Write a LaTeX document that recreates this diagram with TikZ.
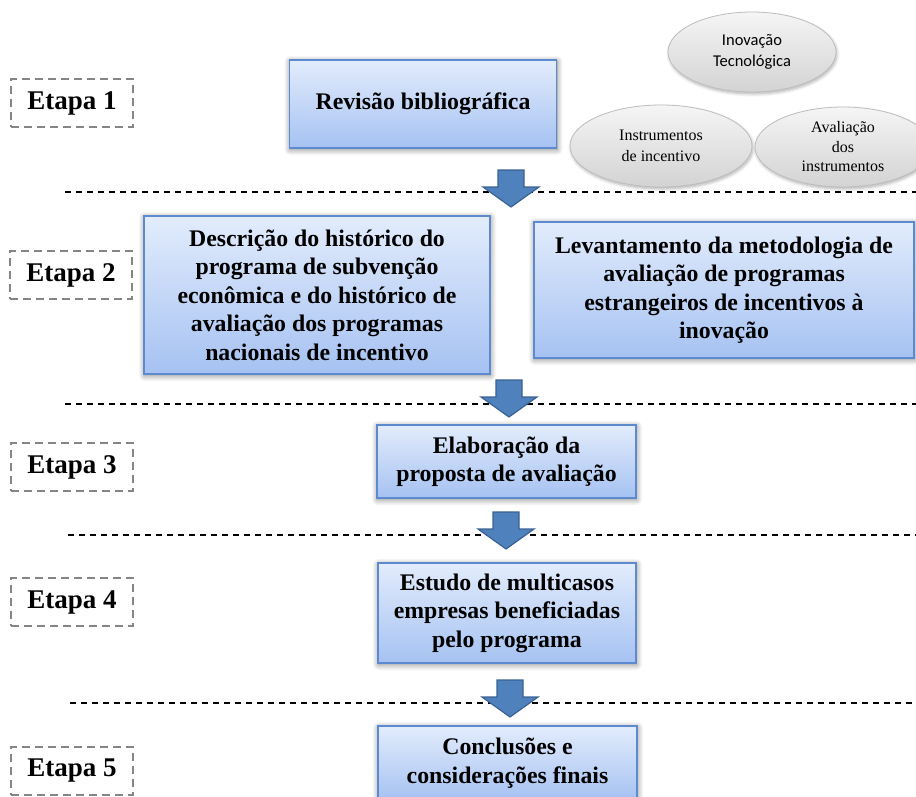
\documentclass[tikz,border=0pt]{standalone}
\usepackage{fontspec}
\setmainfont{Liberation Serif}
\newfontfamily\ovalsans{Carlito}
\usetikzlibrary{shapes.geometric,shadows.blur}

\definecolor{boxtop}{HTML}{E2ECFC}
\definecolor{boxbot}{HTML}{A6C2F2}
\definecolor{boxline}{HTML}{5B8AD0}
\definecolor{arrowfill}{HTML}{4F81BD}
\definecolor{arrowline}{HTML}{3A6294}
\definecolor{ovaltop}{HTML}{F5F5F5}
\definecolor{ovalbot}{HTML}{D3D3D3}
\definecolor{ovalline}{HTML}{BDBDBD}
\definecolor{etapaline}{HTML}{858585}

\tikzset{
  stagebox/.style={draw=boxline, line width=1.8pt, top color=boxtop, bottom color=boxbot,
    align=center, inner sep=0pt,
    font=\fontsize{23.8}{28.5}\selectfont\bfseries,
    blur shadow={shadow xshift=0.5pt, shadow yshift=-1.5pt, shadow opacity=50,
      shadow blur steps=10, shadow blur radius=6pt}},
  etapabox/.style={draw=etapaline, dash pattern=on 8pt off 5pt, line width=2.3pt,
    minimum width=122pt, minimum height=48pt, inner sep=0pt,
    font=\fontsize{27}{30}\selectfont\bfseries},
  oval/.style={ellipse, draw=ovalline, line width=0.8pt, top color=ovaltop, bottom color=ovalbot,
    align=center, inner sep=0pt,
    blur shadow={shadow xshift=1pt, shadow yshift=-2pt, shadow opacity=30,
      shadow blur steps=6, shadow blur radius=3pt}},
  sepline/.style={draw=black, line width=1.1pt, dash pattern=on 6pt off 5pt},
  arrowshape/.style={fill=arrowfill, draw=arrowline, line width=1.2pt, line join=miter},
  pics/flowdown/.style={code={
    \draw[arrowshape] (-13,0) -- (13,0) -- (13,17) -- (28,17) -- (0,37)
      -- (-28,17) -- (-13,17) -- cycle;}}
}

\begin{document}
\begin{tikzpicture}[x=1pt,y=-1pt]
  \useasboundingbox (0,0) rectangle (916,796);
  \clip (0,0) rectangle (916,796);

  % separators between the stages
  \coordinate (s1a) at (65,192);  \coordinate (s1b) at (916,192);
  \coordinate (s2a) at (65,404);  \coordinate (s2b) at (916,404);
  \coordinate (s3a) at (68,535);  \coordinate (s3b) at (916,535);
  \coordinate (s4a) at (70,703);  \coordinate (s4b) at (916,703);
  \draw[sepline] (s1a) -- (s1b);
  \draw[sepline] (s2a) -- (s2b);
  \draw[sepline] (s3a) -- (s3b);
  \draw[sepline] (s4a) -- (s4b);

  % stage labels
  \node[etapabox] (e1) at (72,103) {Etapa 1};
  \node[etapabox] (e2) at (71,275) {Etapa 2};
  \node[etapabox] (e3) at (72,467) {Etapa 3};
  \node[etapabox] (e4) at (72,602) {Etapa 4};
  \node[etapabox] (e5) at (72,771) {Etapa 5};

  % themes of the literature review
  \node[oval, minimum width=168pt, minimum height=80pt,
        font=\ovalsans\fontsize{16.5}{21}\selectfont] (inov) at (752,52)
        {Inovação\\Tecnológica};
  \node[oval, minimum width=182pt, minimum height=82pt,
        font=\fontsize{16}{20.5}\selectfont] (instr) at (661,146)
        {Instrumentos\\de incentivo};
  \node[oval, minimum width=176pt, minimum height=80pt,
        font=\fontsize{16}{19.5}\selectfont] (aval) at (843,147)
        {Avaliação\\dos\\instrumentos};

  % stage contents
  \node[stagebox, minimum width=267pt, minimum height=88pt] (rev) at (423,104)
    {Revisão bibliográfica};
  \node[stagebox, minimum width=346pt, minimum height=158pt] (desc) at (317,295)
    {Descrição do histórico do\\programa de subvenção\\econômica e do histórico de\\avaliação dos programas\\nacionais de incentivo};
  \node[stagebox, minimum width=380pt, minimum height=136pt] (lev) at (724,290)
    {Levantamento da metodologia de\\avaliação de programas\\estrangeiros de incentivos à\\inovação};
  \node[stagebox, minimum width=259pt, minimum height=73pt] (elab) at (506.5,461.5)
    {Elaboração da\\proposta de avaliação};
  \node[stagebox, minimum width=258pt, minimum height=100pt] (est) at (507,613)
    {Estudo de multicasos\\empresas beneficiadas\\pelo programa};
  \node[stagebox, minimum width=259pt, minimum height=74pt] (conc) at (507.5,763)
    {Conclusões e\\considerações finais};

  % flow arrows between the stages
  \pic at (511,170) {flowdown};
  \pic at (509,380) {flowdown};
  \pic at (506,512) {flowdown};
  \pic at (510,680) {flowdown};
\end{tikzpicture}
\end{document}
